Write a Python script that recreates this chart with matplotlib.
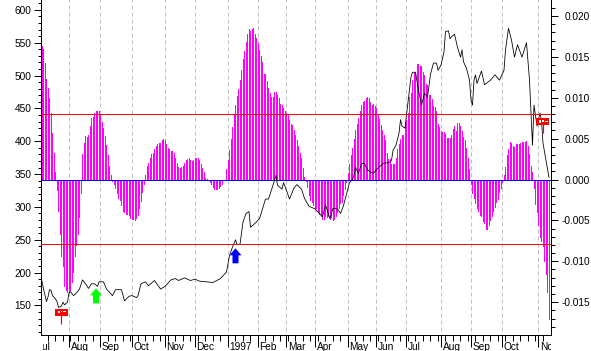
import matplotlib
matplotlib.use("Agg")
import matplotlib.pyplot as plt
import numpy as np
from matplotlib.patches import Polygon, Rectangle
from matplotlib.transforms import Affine2D, Bbox

plt.rcParams['font.family'] = ['Liberation Sans', 'DejaVu Sans']

W, H = 591, 351
PX = 72 / 100

# oscillator, thousandths, one value per trading day
indicator_milli = [
    16.3,16.0,14.3,12.3,11.2,10.0,8.1,5.7,3.3,0.9,
    -1.3,-3.8,-6.6,-9.4,-10.6,-13.0,-13.5,-13.8,-13.8,-13.5,-12.5,-11.3,-9.4,-8.0,-6.7,-4.6,-1.7,
    3.1,4.5,5.3,5.2,5.5,6.5,7.5,7.7,8.2,8.4,8.4,8.4,8.0,7.1,6.3,5.3,4.2,3.0,1.6,0.6,
    -0.2,-0.5,-1.0,-1.6,-2.2,-2.5,-3.1,-3.8,-4.0,-4.2,-4.2,-4.3,-4.7,-4.8,-4.8,-4.9,-4.7,-4.3,-3.5,-2.6,-1.5,-0.5,
    0.6,1.6,2.0,2.6,3.1,3.3,3.7,4.1,4.3,4.5,4.5,4.8,4.9,4.8,4.3,3.9,3.7,3.5,3.5,3.2,2.6,2.0,1.5,1.4,1.5,1.6,2.0,2.4,2.5,2.6,2.4,2.3,2.4,2.6,2.6,2.6,2.4,
    1.9,1.4,0.9,0.2,0.1,-0.1,
    -0.3,-0.6,-0.9,-1.1,-1.1,-1.1,-1.0,-0.8,-0.5,-0.1,
    0.0,1.3,2.4,3.6,4.9,6.4,7.9,9.1,10.2,11.1,12.2,13.4,14.7,15.7,16.8,17.8,18.4,18.2,18.4,18.5,17.8,17.3,16.7,15.8,15.1,14.4,12.9,12.9,12.0,11.2,10.6,10.1,10.1,10.7,10.7,10.4,10.0,9.2,9.1,8.7,8.4,8.1,7.9,7.3,6.8,6.7,6.0,5.4,4.8,4.1,3.3,2.6,1.4,0.3,
    -0.2,-0.9,-1.9,-2.5,-2.7,-3.1,-3.5,-3.5,-4.0,-4.2,-4.4,-4.8,-4.8,-4.4,-4.6,-4.4,-4.8,-4.6,-5.0,-4.8,-4.4,-4.0,-3.5,-2.9,-2.7,-1.9,-1.1,-0.3,
    0.8,1.9,3.0,3.8,4.9,6.0,6.8,7.5,8.4,9.1,9.5,9.6,10.0,10.1,10.0,9.5,9.1,9.2,9.0,8.7,7.9,7.4,6.7,6.0,5.4,4.8,3.3,2.5,2.5,1.9,1.9,1.9,2.6,3.7,4.3,4.9,5.5,5.5,7.0,7.3,8.1,10.1,10.6,12.2,13.1,13.1,14.1,14.1,13.9,13.9,13.1,12.8,11.7,11.6,10.4,10.4,9.8,9.0,8.9,8.4,6.8,6.4,5.9,5.8,5.8,5.6,5.1,5.1,5.1,5.5,6.2,6.5,5.9,6.9,6.9,6.5,5.9,5.2,4.8,3.8,2.6,1.3,
    -0.5,-1.7,-2.3,-2.9,-3.5,-3.9,-4.3,-4.5,-5.1,-5.3,-6.0,-6.0,-5.5,-4.9,-4.5,-3.9,-3.3,-2.7,-2.4,-1.5,-1.0,-0.3,
    0.5,1.5,3.0,3.7,4.6,4.5,4.1,4.0,4.4,4.4,4.4,4.5,4.6,4.6,4.6,4.7,4.1,3.1,1.6,0.9,
    -1.0,-3.0,-4.0,-5.5,-7.0,-7.5,-8.1,-10.0,-11.5,-13.7,-17.0,
]
indicator = np.array(indicator_milli) / 1000
days = np.arange(len(indicator))

price_day = [0,1,3,4,5,6,7,9,10,11,13,14,15,17,18,19,21,23,25,27,29,31,33,35,37,38,41,43,47,49,53,55,58,60,63,64,66,69,71,75,79,82,86,89,91,95,99,102,105,
    114,119,123,125,127,129,130,132,134,136,138,139,142,145,149,151,154,156,157,160,161,163,165,168,170,173,175,178,182,187,189,192,194,197,199,201,205,207,208,
    209,211,213,215,217,221,223,228,231,233,234,236,238,239,240,242,243,245,246,247,249,251,253,255,257,258,259,261,263,264,266,268,269,271,272,273,275,277,279,280,281,283,285,286,287,288,289,290,293,295,299,302,305,308,309,311,313,315,317,320,323,325,327,328,330,332,333,334,336,338]
price = [187,175,156,163,174,173,165,160,156,147,149,155,151,155,169,171,165,169,175,189,183,176,183,183,179,186,186,175,165,174,174,157,164,165,162,165,183,186,180,188,175,179,189,191,188,192,188,190,187,
    185,191,201,226,239,250,243,243,277,290,293,269,275,282,312,312,333,348,333,327,337,325,312,329,334,327,313,301,297,285,303,282,298,297,290,302,337,342,348,
    360,351,366,366,356,351,357,367,367,371,386,394,412,433,423,420,440,478,498,505,505,478,455,473,467,484,502,519,519,508,516,536,567,568,556,559,563,543,528,539,521,511,493,463,455,493,501,488,507,486,493,501,493,508,539,572,554,528,547,528,550,493,394,455,423,443,432,397,371,345]

month_day = [18,39,60,82,102,124,144,163,182,204,223,243,266,286,307,331]
month_labels = ['Aug','Sep','Oct','Nov','Dec','1997','Feb','Mar','Apr','May','Jun','Jul','Aug','Sep','Oct','Nov']
week_day = np.arange(4, 339, 5)
price_ticks = np.arange(150, 601, 50)
price_minor = np.arange(110, 611, 10)
ind_ticks = [-0.015,-0.010,-0.005,0.0,0.005,0.010,0.015,0.020]
ind_minor = np.arange(-18, 22) / 1000
price_bands = [441, 243]

buy_signals = [(36, 176, '#00ff00'), (129, 237, '#0000ff')]
sell_signals = [(13, 122.5), (334, 412)]

fig = plt.figure(figsize=(W/100, H/100), dpi=100, facecolor='white')
L, R, B = 41.5, 550.5, 334.5
ax2 = fig.add_axes([L/W, (H-B)/H, (R-L)/W, B/H])
ax = ax2.twinx()
ax.yaxis.tick_left()
ax2.yaxis.tick_right()
ax.set_zorder(ax2.get_zorder() + 1)
ax.patch.set_visible(False)

for a in (ax, ax2):
    a.set_xlim(-0.33, 339)
    a.spines['top'].set_visible(False)
ax.set_ylim(105.8, 615)
ax2.set_ylim(-0.01895, 0.02196)

ax2.vlines(month_day, -1, 1, color='#c0c0c0', lw=1*PX, linestyles=(0, (4, 3)), zorder=1)
ax2.vlines(days, 0, indicator, color='#ff00ff', lw=1*PX, antialiased=False, zorder=2)
ax2.axhline(0, color='#0000ff', lw=1*PX, zorder=3)
ax.plot(price_day, price, color='black', lw=0.8*PX, zorder=4, clip_on=True)
for band in price_bands:
    ax.axhline(band, color='#ff0000', lw=1*PX, zorder=5)

ax.set_yticks(price_ticks)
ax.set_yticklabels([str(v) for v in price_ticks])
ax.set_yticks(price_minor, minor=True)
ax.tick_params(axis='y', which='major', left=True, right=False, length=7*PX, width=1*PX, labelsize=7.3, pad=3*PX)
ax.tick_params(axis='y', which='minor', left=True, right=False, length=3.5*PX, width=1*PX)

ax2.set_yticks(ind_ticks)
ax2.set_yticklabels(['%.3f' % v for v in ind_ticks], ha='right')
ax2.set_yticks(ind_minor, minor=True)
ax2.tick_params(axis='y', which='major', right=True, left=False, length=7*PX, width=1*PX, labelsize=7.3, pad=32.5*PX)
ax2.tick_params(axis='y', which='minor', right=True, left=False, length=3.5*PX, width=1*PX)

ax2.set_xticks(month_day)
ax2.set_xticklabels([])
ax2.set_xticks(week_day, minor=True)
ax2.tick_params(axis='x', which='major', length=12*PX, width=1*PX)
ax2.tick_params(axis='x', which='minor', length=5.5*PX, width=1*PX)
ax.tick_params(axis='x', which='both', bottom=False, labelbottom=False)

clip = Bbox.from_extents(L + 1, 0, R, H)
all_days = [-3.7] + month_day
all_labels = ['Jul'] + month_labels
for d, s in zip(all_days, all_labels):
    t = ax.annotate(s, xy=(d, 0), xycoords=('data', 'axes fraction'),
                    xytext=(1.5*PX, -15.5*PX), textcoords='offset points',
                    ha='left', va='baseline', fontsize=7.3, annotation_clip=False, color='black')
    t.set_clip_on(True)
    t.set_clip_box(clip)

# signal glyphs, placed at their data point and sized in pixels
fig.canvas.draw()
def at(a, x, y):
    px, py = a.transData.transform((x, y))
    return Affine2D().translate(px, py)

for d, p, c in buy_signals:
    shape = [(0,0),(6,-7),(3,-7),(3,-15),(-3,-15),(-3,-7),(-6,-7)]
    ax.add_patch(Polygon(shape, closed=True, fc=c, ec='none', transform=at(ax, d, p), zorder=6, clip_on=False))

for d, p in sell_signals:
    tr = at(ax, d, p)
    ax.plot([0, 0], [0, 9], color='#ff0000', lw=1.2*PX, transform=tr, zorder=6, clip_on=False, solid_capstyle='butt')
    ax.add_patch(Rectangle((-6.5, 8), 13, 7, fc='#ff0000', ec='none', transform=tr, zorder=6, clip_on=False))
    ax.add_patch(Rectangle((-3.5, 10.5), 2, 2.5, fc='white', ec='none', transform=tr, zorder=7, clip_on=False))
    ax.add_patch(Rectangle((-0.5, 11.5), 1.5, 1.5, fc='white', ec='none', transform=tr, zorder=7, clip_on=False))
    ax.add_patch(Rectangle((2, 11.5), 3, 1, fc='white', ec='none', transform=tr, zorder=7, clip_on=False))

for a in (ax, ax2):
    for s in a.spines.values():
        s.set_linewidth(1*PX)

fig.savefig('out.png', dpi=100, facecolor='white')
